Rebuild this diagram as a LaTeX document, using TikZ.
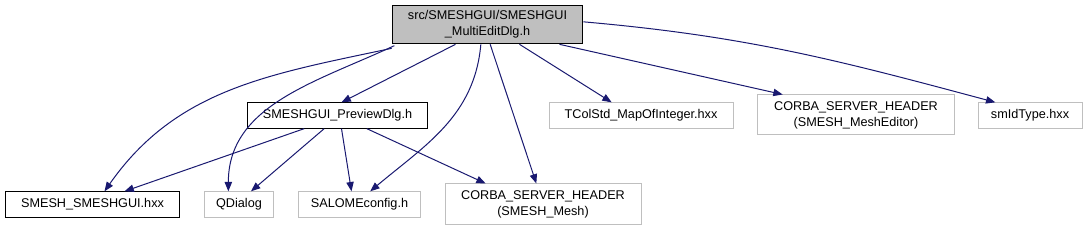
\documentclass[tikz,border=0pt]{standalone}
\usepackage{fontspec}
\setmainfont{Liberation Sans}
\usetikzlibrary{arrows.meta}
\definecolor{edgeblue}{HTML}{191970}
\definecolor{boxgray}{HTML}{BFBFBF}

\begin{document}
\begin{tikzpicture}[x=0.75pt, y=-0.75pt, >={Triangle[length=7pt,width=5.5pt]},
  file/.style={draw=black, fill=white, line width=0.75pt, inner sep=0pt, font=\fontsize{9.5}{12}\selectfont, align=center},
  ext/.style={file, draw=boxgray},
  edge/.style={->, draw=edgeblue, line width=0.75pt}]
  \useasboundingbox (0,0) rectangle (1087,231);
  % the header itself
  \node[file, fill=boxgray, minimum width=143pt, minimum height=29pt] (main) at (487.5,24.5)
    {src/SMESHGUI/SMESHGUI\\\_MultiEditDlg.h};
  % first row
  \node[file, minimum width=135pt, minimum height=19pt] (preview) at (337.5,115.5) {SMESHGUI\_PreviewDlg.h};
  \node[ext, minimum width=138pt, minimum height=19pt] (tcol) at (641,115.5) {TColStd\_MapOfInteger.hxx};
  \node[ext, minimum width=148pt, minimum height=30pt] (editor) at (856,115) {CORBA\_SERVER\_HEADER\\(SMESH\_MeshEditor)};
  \node[ext, minimum width=78pt, minimum height=19pt] (smid) at (1030,115.5) {smIdType.hxx};
  % second row
  \node[file, minimum width=131pt, minimum height=19pt] (smeshgui) at (92.5,204.5) {SMESH\_SMESHGUI.hxx};
  \node[ext, minimum width=52pt, minimum height=19pt] (qdialog) at (239,204.5) {QDialog};
  \node[ext, minimum width=92pt, minimum height=19pt] (salome) at (359.5,204.5) {SALOMEconfig.h};
  \node[ext, minimum width=147pt, minimum height=30pt] (mesh) at (543,204) {CORBA\_SERVER\_HEADER\\(SMESH\_Mesh)};

  \draw[edge] ([yshift=-3pt]main.south west) to[out=192,in=55] ([xshift=9pt]smeshgui.north);
  \draw[edge] ([xshift=2pt,yshift=-1pt]main.south west) to[out=205,in=90] ([xshift=-8pt]qdialog.north);
  \draw[edge] ([xshift=-24pt]main.south) -- ([xshift=3pt]preview.north);
  \draw[edge] ([xshift=-5pt]main.south) to[out=265,in=40] ([xshift=8pt]salome.north);
  \draw[edge] ([xshift=2pt]main.south) -- ([xshift=-5pt]mesh.north);
  \draw[edge] ([xshift=24pt]main.south) -- ([xshift=-22pt]tcol.north);
  \draw[edge] ([xshift=54pt]main.south) -- ([xshift=-55pt]editor.north);
  \draw[edge] ([yshift=2pt]main.east) to[out=-5,in=165] ([xshift=-26pt]smid.north);

  \draw[edge] ([xshift=-25pt]preview.south) -- ([xshift=24pt]smeshgui.north);
  \draw[edge] ([xshift=-10pt]preview.south) -- ([xshift=9pt]qdialog.north);
  \draw[edge] ([xshift=3pt]preview.south) -- ([xshift=-6pt]salome.north);
  \draw[edge] ([xshift=22pt]preview.south) -- ([xshift=-43pt]mesh.north);
\end{tikzpicture}
\end{document}
